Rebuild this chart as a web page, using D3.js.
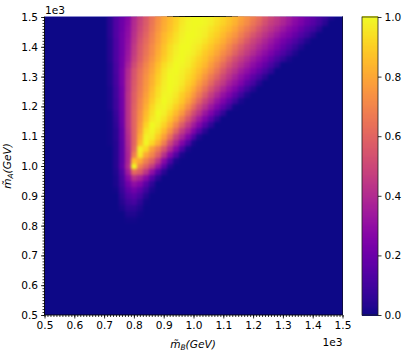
<!DOCTYPE html>
<html>
<head>
<meta charset="utf-8">
<script src="https://cdn.jsdelivr.net/npm/d3@7"></script>
<style>
html,body{margin:0;padding:0;background:#fff}
svg{display:block}
text{font-family:"DejaVu Sans",sans-serif;fill:#000}
</style>
</head>
<body>
<svg id="c" width="407" height="352"></svg>
<script>
// Tick labels
const massTicks = [500,600,700,800,900,1000,1100,1200,1300,1400,1500];
const barTicks = [0,0.2,0.4,0.6,0.8,1.0];
// Grid axes: mass values in GeV
const gridStep = 20;
const massB = d3.range(500,1501,gridStep);
const massA = d3.range(500,1501,gridStep);
// Non-zero stretch of each grid row (percent).
// rowMassA = m_A of the row, rowFirstB = m_B of its first listed cell.
const rowMassA = [820,840,860,880,900,920,940,960,980,1000,1020,1040,1060,1080,1100,1120,1140,1160,1180,1200,1220,1240,1260,1280,1300,1320,1340,1360,1380,1400,1420,1440,1460,1480,1500];
const rowFirstB = [780,780,760,760,760,740,740,740,740,740,740,740,740,720,720,720,720,720,720,720,720,720,720,720,720,720,720,720,720,720,720,720,720,720,720];
const rowValues = [
[1,1],
[3,3,1],
[2,6,6,3],
[4,9,11,6,1],
[6,13,16,11,4],
[1,8,17,22,17,9,2],
[2,10,22,30,26,16,6],
[2,12,28,42,37,28,15,5],
[3,14,35,62,56,44,30,16,5],
[4,18,40,100,68,58,46,32,17,4],
[4,17,38,85,80,68,58,44,28,13,2],
[4,17,38,68,96,80,70,58,42,27,14,2],
[4,17,39,62,98,92,77,67,54,40,27,13,2],
[1,4,17,40,60,85,99,92,82,68,51,38,26,14,2],
[1,5,18,41,60,81,98,97,89,78,64,48,37,26,14,3],
[1,5,18,42,60,78,95,99,94,85,74,60,46,36,26,15,5],
[1,6,20,43,60,76,91,100,97,91,82,70,57,45,35,26,15,6],
[1,7,21,43,60,74,87,96,99,95,88,79,67,55,44,34,25,16,6],
[1,8,21,43,60,73,85,94,100,98,92,85,76,64,52,43,33,25,16,7],
[2,9,22,43,59,71,82,92,98,99,96,90,83,73,62,51,42,33,25,17,9,1],
[2,9,22,43,58,70,80,89,96,100,98,94,88,80,70,60,49,41,32,25,17,9,2],
[2,10,23,43,58,68,78,87,94,99,99,96,90,84,76,67,57,47,39,31,25,17,9,3],
[2,10,23,42,57,67,76,85,93,98,100,98,94,88,81,73,64,54,46,38,31,25,17,10,4],
[3,11,24,42,56,66,75,83,91,97,100,99,96,91,86,78,70,61,52,45,37,31,25,17,11,4],
[3,11,24,41,55,65,74,82,90,96,100,99,97,93,89,83,75,67,59,50,43,36,30,24,17,11,5],
[3,12,24,40,54,64,72,80,88,95,99,100,98,95,91,86,80,73,65,56,48,42,35,30,24,18,12,6],
[3,12,23,37,51,61,70,78,86,93,97,100,99,97,93,89,84,77,70,62,54,47,41,35,29,24,18,12,6],
[4,13,23,34,48,58,67,75,83,90,95,99,100,98,95,91,87,81,75,68,60,52,46,40,34,29,24,18,12,7,2],
[4,13,22,33,46,57,65,73,81,88,94,98,100,99,97,94,89,85,80,73,67,59,52,46,40,34,29,24,18,13,8,3],
[4,13,22,32,45,56,64,72,80,87,93,97,100,100,98,96,92,88,83,78,71,64,57,50,45,39,34,29,24,18,13,8,3],
[4,13,22,31,43,54,62,70,78,85,91,95,99,100,99,98,95,91,87,82,76,70,63,56,49,44,38,33,28,23,18,13,8,3],
[5,14,22,30,42,52,60,69,77,84,89,94,98,100,100,99,97,93,90,85,80,75,68,62,55,49,43,38,33,28,24,19,14,9,4],
[5,14,21,29,41,50,58,67,75,82,87,92,97,99,100,99,98,95,92,88,84,79,73,67,61,54,48,43,38,33,28,24,19,14,10,5],
[5,14,21,28,40,49,57,66,74,81,86,91,96,99,100,100,99,97,94,91,87,83,77,72,66,60,53,47,43,38,33,28,24,19,15,10,5],
[5,14,20,27,39,48,56,65,73,80,85,90,95,98,100,100,99,98,95,92,88,84,79,74,69,63,56,50,45,40,35,30,26,21,17,12,8,3]
];

const W = 407, H = 352;
const box = {left:44.5, right:342.5, top:17, bottom:315};
const bar = {left:362, right:378};
const svg = d3.select("#c");

const x = d3.scaleLinear().domain([500,1500]).range([box.left,box.right]);
const y = d3.scaleLinear().domain([500,1500]).range([box.bottom,box.top]);
const c = d3.scaleSequential(d3.interpolatePlasma).domain([0,1]);
const barY = d3.scaleLinear().domain([0,1]).range([box.bottom,box.top]);

// Build the full cell table
const valueAt = new Map();
rowMassA.forEach((a,i)=>rowValues[i].forEach((v,j)=>{
  valueAt.set(a+"|"+(rowFirstB[i]+j*gridStep), v/100);
}));
const cells = [];
massA.forEach(a=>massB.forEach(b=>cells.push({a,b,v:valueAt.get(a+"|"+b)||0})));

const defs = svg.append("defs");
defs.append("clipPath").attr("id","plotClip").append("rect")
  .attr("x",box.left).attr("y",box.top)
  .attr("width",box.right-box.left).attr("height",box.bottom-box.top);
const soft = defs.append("filter").attr("id","soft")
  .attr("filterUnits","userSpaceOnUse")
  .attr("x",box.left-20).attr("y",box.top-20)
  .attr("width",box.right-box.left+40).attr("height",box.bottom-box.top+40)
  .attr("color-interpolation-filters","sRGB");
soft.append("feGaussianBlur").attr("stdDeviation",1.6).attr("edgeMode","duplicate");

svg.append("g").attr("clip-path","url(#plotClip)")
  .append("g").attr("filter","url(#soft)")
  .attr("shape-rendering","crispEdges")
  .selectAll("rect").data(cells).join("rect")
  .attr("x",d=>x(d.b-gridStep/2))
  .attr("y",d=>y(d.a+gridStep/2))
  .attr("width",d=>x(d.b+gridStep/2)-x(d.b-gridStep/2)+0.5)
  .attr("height",d=>y(d.a-gridStep/2)-y(d.a+gridStep/2)+0.5)
  .attr("fill",d=>c(d.v));

// Top edge: resampled line, tinted by the top row
const edgeColor = d3.scaleLinear()
  .domain([0,0.3,0.6,0.8,0.9,1])
  .range(["#8a8ad0","#a070c8","#e89aa0","#e0a060","#303020","#000000"]);
svg.append("g").attr("shape-rendering","crispEdges")
  .selectAll("rect").data(cells.filter(d=>d.a===1500)).join("rect")
  .attr("x",d=>Math.max(box.left,x(d.b-gridStep/2)))
  .attr("y",box.top-1)
  .attr("width",d=>Math.min(box.right,x(d.b+gridStep/2))-Math.max(box.left,x(d.b-gridStep/2))+0.5)
  .attr("height",1.2)
  .attr("fill",d=>edgeColor(d.v));

// Spines
svg.append("path").attr("fill","none").attr("stroke","#000").attr("stroke-width",0.9)
  .attr("d",`M${box.left},${box.top-0.5}V${box.bottom}H${box.right}`);
svg.append("path").attr("fill","none").attr("stroke","#000030").attr("stroke-width",0.9)
  .attr("d",`M${box.right},${box.top-0.5}V${box.bottom}`);

// Axes
const fmt = v=>(v/1000).toFixed(1);
function styleAxis(g){
  g.select(".domain").remove();
  g.selectAll("text").attr("font-size",10.6);
  g.selectAll("line").attr("stroke","#000").attr("stroke-width",0.8);
}
const minor = d3.range(500,1501,10);
svg.append("g").attr("transform",`translate(0,${box.bottom})`)
  .call(d3.axisBottom(x).tickValues(minor).tickSize(2).tickFormat("")).call(styleAxis);
svg.append("g").attr("transform",`translate(${box.left},0)`)
  .call(d3.axisLeft(y).tickValues(minor).tickSize(2).tickFormat("")).call(styleAxis);
svg.append("g").attr("transform",`translate(0,${box.bottom})`)
  .call(d3.axisBottom(x).tickValues(massTicks).tickSize(3.5).tickPadding(3).tickFormat(fmt)).call(styleAxis);
svg.append("g").attr("transform",`translate(${box.left},0)`)
  .call(d3.axisLeft(y).tickValues(massTicks).tickSize(3.5).tickPadding(3).tickFormat(fmt)).call(styleAxis);

// Offset texts
svg.append("text").attr("x",box.left+0.5).attr("y",14).attr("font-size",10.6).text("1e3");
svg.append("text").attr("x",box.right).attr("y",346).attr("text-anchor","end").attr("font-size",10.6).text("1e3");

// Axis labels
function massLabel(sel,sub){
  sel.attr("font-size",10.6).attr("font-style","italic");
  sel.append("tspan").text("m\u0303");
  sel.append("tspan").attr("font-size",7.5).attr("dy",2).text(sub);
  sel.append("tspan").attr("dy",-2).text("(GeV)");
}
svg.append("text").attr("x",193).attr("y",348).attr("text-anchor","middle").call(massLabel,"B");
svg.append("text").attr("transform","translate(11,166) rotate(-90)").attr("text-anchor","middle").call(massLabel,"A");

// Colour bar
const barSteps = d3.range(0,256).map(i=>i/255);
svg.append("g").attr("shape-rendering","crispEdges")
  .selectAll("rect").data(barSteps).join("rect")
  .attr("x",bar.left).attr("width",bar.right-bar.left)
  .attr("y",d=>barY(d)-1.2).attr("height",2.4)
  .attr("fill",d=>c(d));
svg.append("rect").attr("x",bar.left).attr("y",box.top).attr("width",bar.right-bar.left)
  .attr("height",box.bottom-box.top).attr("fill","none").attr("stroke","#222").attr("stroke-width",0.8);
svg.append("g").attr("transform",`translate(${bar.right},0)`)
  .call(d3.axisRight(barY).tickValues(barTicks).tickSize(3.5).tickPadding(3).tickFormat(d3.format(".1f")))
  .call(styleAxis);
</script>
</body>
</html>
